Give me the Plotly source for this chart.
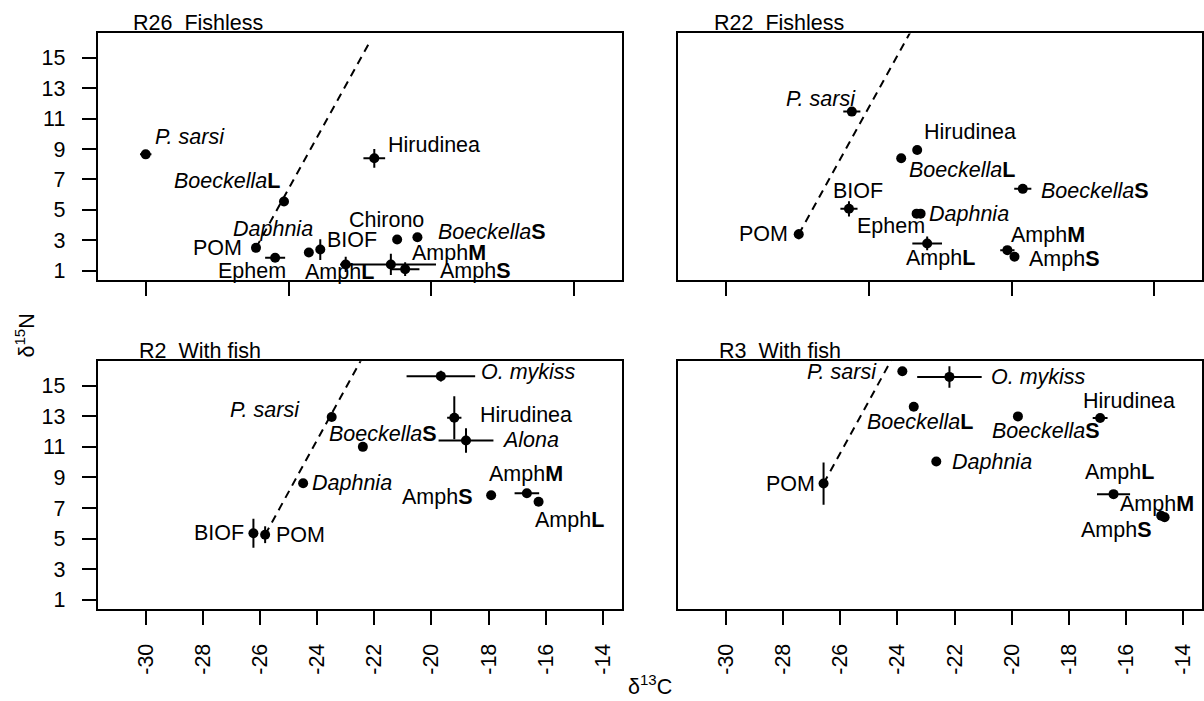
import plotly.graph_objects as go

# ---------------- data ----------------
# R26 Fishless
r26_names = ["P. sarsi", "BoeckellaL", "POM", "Ephem", "Daphnia", "BIOF", "AmphL", "AmphM", "AmphS", "Chirono", "BoeckellaS", "Hirudinea"]
r26_c = [-30.0, -25.16, -26.14, -25.47, -24.29, -23.89, -23.0, -21.42, -20.92, -21.2, -20.49, -22.0]
r26_n = [8.65, 5.55, 2.5, 1.85, 2.19, 2.39, 1.41, 1.41, 1.1, 3.05, 3.2, 8.39]
r26_ec = [0.2, 0.1, 0.1, 0.35, 0.1, 0.15, 0.2, 1.58, 0.5, 0.05, 0.1, 0.38]
r26_en = [0.15, 0.1, 0.1, 0.1, 0.15, 0.68, 0.5, 0.7, 0.45, 0.1, 0.1, 0.62]

# R22 Fishless
r22_names = ["POM", "P. sarsi", "Hirudinea", "BoeckellaL", "BoeckellaS", "BIOF", "Ephem", "Daphnia", "AmphL", "AmphM", "AmphS"]
r22_c = [-27.46, -25.6, -23.31, -23.87, -19.61, -25.7, -23.33, -23.19, -22.96, -20.15, -19.9]
r22_n = [3.39, 11.46, 8.93, 8.39, 6.38, 5.07, 4.75, 4.75, 2.79, 2.35, 1.92]
r22_ec = [0.1, 0.3, 0.1, 0.1, 0.3, 0.3, 0.1, 0.1, 0.52, 0.25, 0.1]
r22_en = [0.33, 0.1, 0.1, 0.1, 0.1, 0.5, 0.1, 0.1, 0.45, 0.1, 0.1]

# R2 With fish
r2_names = ["O. mykiss", "P. sarsi", "Hirudinea", "BoeckellaS", "Alona", "Daphnia", "AmphS", "AmphM", "AmphL", "BIOF", "POM"]
r2_c = [-19.67, -23.49, -19.2, -22.4, -18.79, -24.49, -17.91, -16.66, -16.25, -26.23, -25.82]
r2_n = [15.62, 12.95, 12.9, 11.0, 11.42, 8.62, 7.84, 7.97, 7.41, 5.35, 5.26]
r2_ec = [1.2, 0.1, 0.25, 0.1, 0.96, 0.1, 0.1, 0.43, 0.1, 0.1, 0.1]
r2_en = [0.35, 0.1, 1.41, 0.1, 0.8, 0.1, 0.1, 0.1, 0.1, 0.95, 0.55]

# R3 With fish
r3_names = ["POM", "P. sarsi", "O. mykiss", "BoeckellaL", "BoeckellaS", "Hirudinea", "Daphnia", "AmphL", "AmphM", "AmphS"]
r3_c = [-26.59, -23.83, -22.18, -23.43, -19.78, -16.9, -22.64, -16.43, -14.76, -14.64]
r3_n = [8.6, 15.94, 15.57, 13.62, 12.99, 12.88, 10.04, 7.91, 6.5, 6.4]
r3_ec = [0.1, 0.1, 1.13, 0.1, 0.1, 0.26, 0.1, 0.58, 0.1, 0.1]
r3_en = [1.38, 0.1, 0.7, 0.1, 0.1, 0.1, 0.1, 0.1, 0.1, 0.1]

panel_titles = ["R26\u00a0 Fishless", "R22\u00a0 Fishless", "R2\u00a0 With fish", "R3\u00a0 With fish"]

# trophic enrichment line from POM: slope (d15N per d13C) and length in d13C
SLOPE = 3.4
LINE_DC = 4.0

y_ticks = [1, 3, 5, 7, 9, 11, 13, 15]
x_ticks_bottom = [-30, -28, -26, -24, -22, -20, -18, -16, -14]
x_ticks_top = [-30, -25, -20, -15]

# ---------------- label placement (anchor, xshift px, yshift px) ----------------
r26_lab = [("left", 7, 17), ("right", -2, 20), ("right", -12, 0), ("right", 13, -13), ("right", 6, 24),
           ("left", 5, 10), ("center", -6, -8), ("left", 19, 11), ("left", 33, -2), ("center", -11, 19),
           ("left", 19, 5), ("left", 12, 13)]
r22_lab = [("right", -9, 0), ("right", 6, 13), ("left", 5, 18), ("left", 6, -12), ("left", 16, -2),
           ("center", 9, 18), ("right", 10, -12), ("left", 6, 0), ("center", 13, -15), ("left", 2, 15),
           ("left", 12, -2)]
r2_lab = [("left", 38, 4), ("right", -30, 7), ("left", 24, 3), ("left", -36, 13), ("left", 34, 0),
          ("left", 7, 0), ("right", -16, -2), ("left", -40, 19), ("left", -6, -18), ("right", -7, 0),
          ("left", 9, 0)]
r3_lab = [("right", -7, 0), ("right", -23, -1), ("left", 40, 0), ("left", -49, -15), ("left", -28, -15),
          ("left", -19, 17), ("left", 14, 0), ("left", -31, 22), ("left", -43, 12), ("left", -86, -13)]

FONT = "Liberation Sans, Arial, Helvetica, sans-serif"
FS = 21.5

ITALIC = {"P. sarsi", "Daphnia", "O. mykiss", "Alona"}


def fmt(name):
    if name in ITALIC:
        return "<i>" + name + "</i>"
    if name.startswith("Boeckella"):
        return "<i>Boeckella</i><b>" + name[len("Boeckella"):] + "</b>"
    if name.startswith("Amph"):
        return "Amph<b>" + name[4:] + "</b>"
    return name


panels = [
    (r26_names, r26_c, r26_n, r26_ec, r26_en, r26_lab),
    (r22_names, r22_c, r22_n, r22_ec, r22_en, r22_lab),
    (r2_names, r2_c, r2_n, r2_ec, r2_en, r2_lab),
    (r3_names, r3_c, r3_n, r3_ec, r3_en, r3_lab),
]

W, H = 1204, 701
# pixel boxes of panels (left, right, top, bottom)
boxes = [(97.7, 622.3, 33.6, 281.0), (678.3, 1202.3, 33.6, 281.0),
         (97.7, 622.3, 362.7, 611.7), (678.3, 1202.3, 362.7, 611.7)]
XR = [-31.68, -13.32]
YR = [0.4, 16.6]

fig = go.Figure()
annotations = []

for i, (names, c, n, ec, en, lab) in enumerate(panels):
    k = "" if i == 0 else str(i + 1)
    xa, ya = "x" + k, "y" + k
    # dashed enrichment line from POM
    pi = names.index("POM")
    fig.add_trace(go.Scatter(
        x=[c[pi], c[pi] + LINE_DC], y=[n[pi], n[pi] + SLOPE * LINE_DC],
        mode="lines", line=dict(color="black", width=2, dash="8px,6px"),
        xaxis=xa, yaxis=ya, showlegend=False, hoverinfo="skip"))
    fig.add_trace(go.Scatter(
        x=c, y=n, mode="markers",
        marker=dict(color="black", size=10, line=dict(width=0)),
        error_x=dict(type="data", array=ec, color="black", thickness=2, width=0),
        error_y=dict(type="data", array=en, color="black", thickness=2, width=0),
        xaxis=xa, yaxis=ya, showlegend=False, text=names))
    for j, nm in enumerate(names):
        anc, xs, ys = lab[j]
        annotations.append(dict(
            x=c[j], y=n[j], xref=xa, yref=ya, text=fmt(nm), showarrow=False,
            xanchor=anc, yanchor="middle", xshift=xs, yshift=ys,
            font=dict(family=FONT, size=FS, color="black")))

    l, r, t, b = boxes[i]
    dom_x = [l / W, r / W]
    dom_y = [1 - b / H, 1 - t / H]
    bottom_row = i >= 2
    left_col = i % 2 == 0
    axis_common = dict(showline=True, linecolor="black", linewidth=2, mirror=True,
                       showgrid=False, zeroline=False, ticks="outside", ticklen=14,
                       tickwidth=2, tickcolor="black",
                       tickfont=dict(family=FONT, size=FS, color="black"))
    xaxis = dict(axis_common, domain=dom_x, range=XR, anchor=ya)
    if bottom_row:
        xaxis.update(tickmode="array", tickvals=x_ticks_bottom,
                     ticktext=[str(v) for v in x_ticks_bottom], tickangle=-90,
                     ticklabelstandoff=10)
    else:
        xaxis.update(tickmode="array", tickvals=x_ticks_top, showticklabels=False)
    yaxis = dict(axis_common, domain=dom_y, range=YR, anchor=xa)
    if left_col:
        yaxis.update(tickmode="array", tickvals=y_ticks,
                     ticktext=[str(v) for v in y_ticks], ticklabelstandoff=12)
    else:
        yaxis.update(ticks="", showticklabels=False)
    fig.update_layout(**{"xaxis" + k: xaxis, "yaxis" + k: yaxis})

    annotations.append(dict(
        x=(l + (33.3 if i < 2 else 39)) / W, y=1 - t / H, xref="paper", yref="paper",
        text=panel_titles[i], showarrow=False, xanchor="left", yanchor="bottom", yshift=-4,
        font=dict(family=FONT, size=FS, color="black")))

annotations.append(dict(x=25 / W, y=1 - 337 / H, xref="paper", yref="paper",
                        text="δ<sup>15</sup>N", showarrow=False, textangle=-90,
                        xanchor="center", yanchor="middle",
                        font=dict(family=FONT, size=FS, color="black")))
annotations.append(dict(x=650 / W, y=1 - 688 / H, xref="paper", yref="paper",
                        text="δ<sup>13</sup>C", showarrow=False,
                        xanchor="center", yanchor="middle",
                        font=dict(family=FONT, size=FS, color="black")))

fig.update_layout(width=W, height=H, margin=dict(l=0, r=0, t=0, b=0),
                  paper_bgcolor="white", plot_bgcolor="white",
                  annotations=annotations, showlegend=False)

fig.write_html("out.html", config={"displayModeBar": False},
               post_script="document.body.style.margin='0';document.body.style.overflow='hidden';")
